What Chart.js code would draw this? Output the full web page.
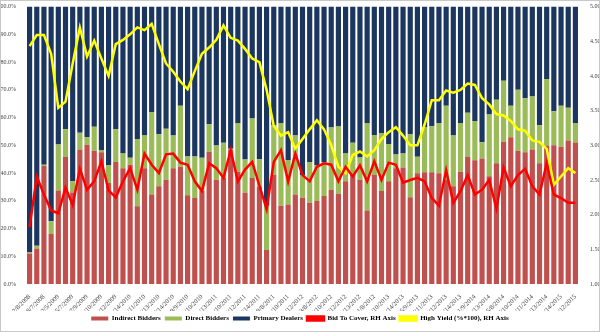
<!DOCTYPE html>
<html>
<head>
<meta charset="utf-8">
<script src="https://cdn.jsdelivr.net/npm/chart.js@4.4.1/dist/chart.umd.min.js"></script>
<style>
  html, body { margin: 0; padding: 0; background: #fff; }
  #auctions { display: block; }
</style>
</head>
<body>
<canvas id="auctions" width="600" height="332"></canvas>
<script>
/* Subastas del bono a 30 años: reparto por tipo de postor y ratios */
const dates = [
  "2/8/2008", "5/8/2008", "8/7/2008", "11/13/2008", "2/5/2009", "4/9/2009", "5/7/2009", "6/11/2009",
  "7/9/2009", "8/13/2009", "9/10/2009", "10/8/2009", "11/12/2009", "12/10/2009", "1/14/2010", "2/11/2010",
  "3/11/2010", "4/8/2010", "5/13/2010", "6/10/2010", "7/14/2010", "8/12/2010", "9/9/2010", "10/7/2010",
  "11/10/2010", "12/9/2010", "1/13/2011", "2/10/2011", "3/10/2011", "4/7/2011", "5/12/2011", "6/9/2011",
  "7/14/2011", "8/11/2011", "9/8/2011", "10/13/2011", "11/10/2011", "12/8/2011", "1/12/2012", "2/9/2012",
  "3/8/2012", "4/12/2012", "5/10/2012", "6/14/2012", "7/12/2012", "8/9/2012", "9/13/2012", "10/11/2012",
  "11/8/2012", "12/13/2012", "1/10/2013", "2/7/2013", "3/14/2013", "4/11/2013", "5/9/2013", "6/13/2013",
  "7/11/2013", "8/8/2013", "9/12/2013", "10/10/2013", "11/14/2013", "12/12/2013", "1/9/2014", "2/6/2014",
  "3/13/2014", "4/10/2014", "5/8/2014", "6/12/2014", "7/10/2014", "8/14/2014", "9/11/2014", "10/9/2014",
  "11/13/2014", "12/11/2014", "1/14/2015", "2/12/2015", "3/12/2015",
];

// % adjudicado a cada tipo de postor
const indirect = [
  11, 12.8, 42.5, 18, 33.7, 45.8, 33, 48.5, 50.2, 48,
  47.5, 36.4, 44, 41.7, 43, 28, 41.7, 32.3, 35.2, 37.6,
  41.7, 42.3, 32, 31, 33.5, 47.6, 37.6, 38.2, 48.5, 40.5,
  32.9, 38.2, 35, 12.3, 39.3, 28.2, 28.7, 32.3, 31.1, 29.3,
  29.9, 31.7, 34, 32.5, 37, 39.3, 37.6, 26.5, 39.3, 33.5,
  37, 41.7, 42, 31.3, 39.9, 40.3, 40.3, 39.9, 37.6, 35.2,
  40.5, 45.8, 44.6, 45.2, 38.8, 43.5, 51.3, 52.9, 48, 47.5,
  48.5, 43.5, 49.9, 50, 49.5, 51.7, 51,
];
const direct = [
  0.5, 1, 0.5, 4.6, 16.6, 10, 4, 6, 2.7, 8.7,
  0.8, 6.5, 11.8, 5.3, 2.5, 24.3, 11.8, 29.7, 18.8, 18.4,
  11.8, 22, 14, 15, 12, 10, 12.3, 12.7, 0.3, 17.5,
  12, 21.5, 10, 15.9, 17.9, 29.8, 16, 21.2, 8.2, 14.7,
  13, 12.3, 22.4, 24.3, 10, 11.6, 8, 31.5, 14.4, 20.9,
  13.5, 5, 5, 22.8, 6, 16.1, 16.6, 18.1, 26.7, 18.3,
  17.5, 15.9, 14.2, 5.9, 22.3, 22.9, 22, 11.4, 22, 19.5,
  19.1, 13.7, 24, 12.3, 14.8, 11.8, 7,
];
const dealers = [
  88.5, 86.2, 57, 77.4, 49.7, 44.2, 63, 45.5, 47.1, 43.3,
  51.7, 57.1, 44.2, 53, 54.5, 47.7, 46.5, 38, 46, 44,
  46.5, 35.7, 54, 54, 54.5, 42.4, 50.1, 49.1, 51.2, 42,
  55.1, 40.3, 55, 71.8, 42.8, 42, 55.3, 46.5, 60.7, 56,
  57.1, 56, 43.6, 43.2, 53, 49.1, 54.4, 42, 46.3, 45.6,
  49.5, 53.3, 53, 45.9, 54.1, 43.6, 43.1, 42, 35.7, 46.5,
  42, 38.3, 41.2, 48.9, 38.9, 33.6, 26.7, 35.7, 30, 33,
  32.4, 42.8, 26.1, 37.7, 35.7, 36.5, 42,
];

// eje derecho
const bidToCover = [
  1.82, 2.55, 2.29, 2.06, 2.02, 2.39, 2.14, 2.66, 2.36, 2.48,
  2.77, 2.35, 2.25, 2.48, 2.67, 2.36, 2.88, 2.72, 2.60, 2.87,
  2.88, 2.75, 2.72, 2.48, 2.34, 2.74, 2.67, 2.53, 2.93, 2.48,
  2.65, 2.76, 2.42, 2.08, 2.76, 2.93, 2.48, 2.88, 2.57, 2.48,
  2.69, 2.74, 2.72, 2.48, 2.69, 2.55, 2.71, 2.48, 2.77, 2.50,
  2.75, 2.72, 2.46, 2.50, 2.53, 2.48, 2.24, 2.13, 2.64, 2.17,
  2.34, 2.57, 2.29, 2.36, 2.50, 2.09, 2.68, 2.41, 2.57, 2.66,
  2.41, 2.29, 2.74, 2.29, 2.24, 2.17, 2.17,
];
const highYield = [
  4.43, 4.59, 4.59, 4.32, 3.54, 3.63, 4.18, 4.70, 4.28, 4.51,
  4.25, 4.00, 4.46, 4.52, 4.60, 4.70, 4.66, 4.75, 4.46, 4.18,
  4.06, 3.92, 3.81, 4.07, 4.32, 4.41, 4.52, 4.73, 4.55, 4.51,
  4.39, 4.25, 4.20, 3.80, 3.28, 3.14, 3.19, 2.95, 3.09, 3.23,
  3.36, 3.23, 3.00, 2.69, 2.60, 2.86, 2.91, 2.84, 2.93, 3.09,
  3.19, 3.26, 3.14, 3.00, 3.00, 3.30, 3.65, 3.65, 3.79, 3.76,
  3.80, 3.89, 3.87, 3.68, 3.59, 3.45, 3.43, 3.35, 3.23, 3.21,
  3.07, 3.05, 2.95, 2.43, 2.55, 2.67, 2.60,
];

const leftTicks = { min: 0, max: 100, step: 10 };
const rightTicks = { min: 1, max: 5, step: 0.5 };

const serif = "'Liberation Serif', 'Times New Roman', serif";
const tickColor = "#404040";

// marco gris de todo el grafico
const frame = {
  id: "frame",
  afterDraw(chart) {
    const ctx = chart.ctx;
    ctx.save();
    ctx.strokeStyle = "#c8c8c8";
    ctx.lineWidth = 1;
    ctx.strokeRect(0.5, 0.5, chart.width - 1, chart.height - 1);
    ctx.restore();
  },
};

const barSet = (label, data, color) => ({
  type: "bar",
  label: label,
  data: data,
  backgroundColor: color,
  borderWidth: 0,
  yAxisID: "y",
  stack: "bidders",
  order: 3,
  categoryPercentage: 0.72,
  barPercentage: 1,
});

const lineSet = (label, data, color, order) => ({
  type: "line",
  label: label,
  data: data,
  borderColor: color,
  backgroundColor: color,
  borderWidth: 2.5,
  pointRadius: 0,
  tension: 0,
  yAxisID: "y1",
  order: order,
});

const ctx = document.getElementById("auctions").getContext("2d");

new Chart(ctx, {
  data: {
    labels: dates,
    datasets: [
      barSet("Indirect Bidders", indirect, "#c0504d"),
      barSet("Direct Bidders", direct, "#9bbb59"),
      barSet("Primary Dealers", dealers, "#1b365f"),
      lineSet("Bid To Cover, RH Axis", bidToCover, "#ff0000", 1),
      lineSet("High Yield (%*100), RH Axis", highYield, "#ffff00", 2),
    ],
  },
  plugins: [frame],
  options: {
    responsive: false,
    animation: false,
    devicePixelRatio: 1,
    layout: { padding: { top: 5, left: 0, right: 0, bottom: 0 } },
    plugins: {
      tooltip: { enabled: false },
      legend: {
        position: "bottom",
        labels: {
          boxWidth: 17,
          boxHeight: 4,
          padding: 4,
          color: "#000",
          font: { family: serif, size: 7, weight: "bold" },
          // mismo orden que las series
          sort: (a, b) => a.datasetIndex - b.datasetIndex,
        },
      },
    },
    scales: {
      x: {
        stacked: true,
        offset: true,
        grid: { display: false },
        border: { display: false },
        ticks: {
          autoSkip: false,
          maxRotation: 45,
          minRotation: 45,
          padding: 1,
          color: tickColor,
          font: { family: serif, size: 6.5 },
          callback: (value, index) => (index % 2 === 0 ? dates[index] : ""),
        },
        afterFit: (scale) => {
          scale.height = 27;
        },
      },
      y: {
        stacked: true,
        position: "left",
        min: leftTicks.min,
        max: leftTicks.max,
        grid: { display: false },
        border: { display: false },
        ticks: {
          stepSize: leftTicks.step,
          padding: 2,
          color: tickColor,
          font: { family: serif, size: 6 },
          callback: (value) => value.toFixed(1) + "%",
        },
        afterFit: (scale) => {
          scale.width = 26;
        },
      },
      y1: {
        position: "right",
        min: rightTicks.min,
        max: rightTicks.max,
        grid: { display: false },
        border: { display: false },
        ticks: {
          stepSize: rightTicks.step,
          padding: 3,
          color: tickColor,
          font: { family: serif, size: 6 },
          callback: (value) => value.toFixed(2),
        },
        afterFit: (scale) => {
          scale.width = 21;
        },
      },
    },
  },
});
</script>
</body>
</html>
